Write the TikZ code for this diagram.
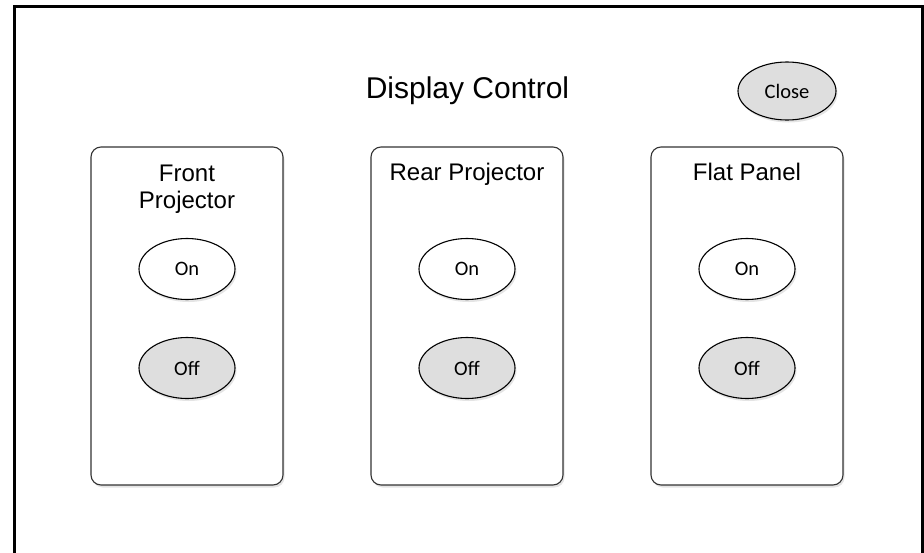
\documentclass[tikz,border=0pt]{standalone}
\usepackage{fontspec}
\setmainfont{Liberation Sans}
\newfontfamily\btnfont{Carlito}
\usetikzlibrary{shapes.geometric,shadows}
\begin{document}
\begin{tikzpicture}[x=1pt,y=-1pt,
  panelbox/.style={draw=black!80, line width=1.1pt, rounded corners=10pt, fill=white,
    drop shadow={shadow xshift=1.5pt, shadow yshift=-2.5pt, fill=black!30, opacity=0.35}},
  btn/.style={ellipse, draw=black, line width=1.1pt, minimum width=96pt, minimum height=61pt,
    inner sep=0pt, font=\btnfont\fontsize{20.5}{24}\selectfont,
    drop shadow={shadow xshift=1.5pt, shadow yshift=-2.5pt, fill=black!30, opacity=0.35}},
  onbtn/.style={btn, fill=white},
  offbtn/.style={btn, fill=black!13},
  lbl/.style={font=\fontsize{24}{27}\selectfont, align=center, inner sep=0pt}
]
\useasboundingbox (0,0) rectangle (924,552);
\draw[line width=3pt] (14,570) -- (14,6.3) -- (922.5,6.3) -- (922.5,570);
\node[font=\fontsize{30}{34}\selectfont, anchor=base] (title) at (467.5,98) {Display Control};
\node[offbtn, minimum width=98pt, minimum height=58pt] (close) at (787,91) {Close};
% panels
\foreach \cx/\nm in {187/front,467/rear,747/flat}{
  \draw[panelbox] (\cx-96,147) rectangle (\cx+96,485);
  \node[onbtn] (\nm on) at (\cx,269) {On};
  \node[offbtn] (\nm off) at (\cx,368) {Off};
}
\node[lbl, anchor=base] (frontlbl1) at (187,181) {Front};
\node[lbl, anchor=base] (frontlbl2) at (187,208) {Projector};
\node[lbl, anchor=base] (rearlbl) at (467,180) {Rear Projector};
\node[lbl, anchor=base] (flatlbl) at (747,180) {Flat Panel};
\end{tikzpicture}
\end{document}
